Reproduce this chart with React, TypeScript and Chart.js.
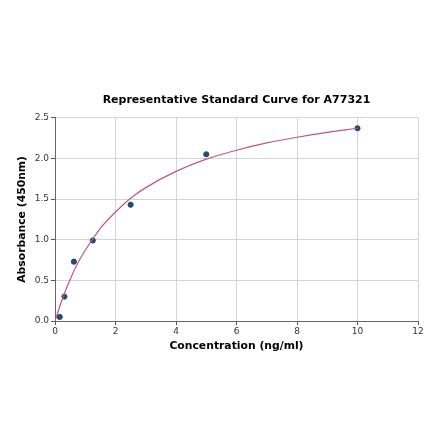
import { useEffect, useRef } from 'react';
import { Chart, registerables } from 'chart.js';

Chart.register(...registerables);

// measured standards
const concentrations = [0.156, 0.3125, 0.625, 1.25, 2.5, 5, 10];
const absorbances = [0.05, 0.3, 0.73, 0.99, 1.43, 2.05, 2.37];

// fitted curve
const curveX = [0, 0.25, 0.5, 0.75, 1, 1.5, 2, 2.5, 3, 4, 5, 6, 7, 8, 9, 10];
const curveY = [0, 0.28, 0.51, 0.71, 0.87, 1.14, 1.34, 1.51, 1.64, 1.84, 1.99, 2.1, 2.19, 2.26, 2.32, 2.37];

const xTicks = [0, 2, 4, 6, 8, 10, 12];
const yTicks = [0, 0.5, 1, 1.5, 2, 2.5];

const FONT = 'DejaVu Sans';

export default function App() {
  const canvasRef = useRef<HTMLCanvasElement | null>(null);
  const chartRef = useRef<Chart | null>(null);

  useEffect(() => {
    const ctx = canvasRef.current?.getContext('2d');
    if (!ctx) return;

    chartRef.current = new Chart(ctx, {
      type: 'scatter',
      data: {
        datasets: [
          {
            type: 'line',
            data: curveX.map((x, i) => ({ x, y: curveY[i] })),
            borderColor: '#c0587a',
            borderWidth: 1.2,
            pointRadius: 0,
            cubicInterpolationMode: 'monotone',
            fill: false,
          },
          {
            data: concentrations.map((x, i) => ({ x, y: absorbances[i] })),
            backgroundColor: '#2b4a6f',
            borderColor: '#2b4a6f',
            pointRadius: 2.6,
          },
        ],
      },
      options: {
        animation: false,
        responsive: false,
        devicePixelRatio: 1,
        layout: { padding: { left: 16, right: 22, top: 0, bottom: 88 } },
        plugins: {
          legend: { display: false },
          tooltip: { enabled: false },
          title: {
            display: true,
            fullSize: false,
            text: 'Representative Standard Curve for A77321',
            color: '#000',
            font: { family: FONT, size: 11, weight: 'bold', lineHeight: 1.2 },
            padding: { top: 94, bottom: 10.5 },
          },
        },
        scales: {
          x: {
            type: 'linear',
            min: 0,
            max: 12,
            afterFit: (s: any) => { s.height = 32; },
            afterBuildTicks: (s: any) => { s.ticks = xTicks.map((v) => ({ value: v })); },
            ticks: { color: '#333', font: { family: FONT, size: 9 }, padding: 1, maxRotation: 0 },
            grid: { color: '#d4d4d4', tickLength: 4, tickColor: '#555' },
            border: { color: '#666', width: 1 },
            title: {
              display: true,
              text: 'Concentration (ng/ml)',
              color: '#000',
              font: { family: FONT, size: 10.8, weight: 'bold', lineHeight: 1.2 },
              padding: 0,
            },
          },
          y: {
            type: 'linear',
            min: 0,
            max: 2.5,
            afterFit: (s: any) => { s.width = 39; },
            afterBuildTicks: (s: any) => { s.ticks = yTicks.map((v) => ({ value: v })); },
            ticks: {
              color: '#333',
              font: { family: FONT, size: 9 },
              padding: 2,
              callback: (v: any) => Number(v).toFixed(1),
            },
            grid: { color: '#d4d4d4', tickLength: 4, tickColor: '#555' },
            border: { color: '#666', width: 1 },
            title: {
              display: true,
              text: 'Absorbance (450nm)',
              color: '#000',
              font: { family: FONT, size: 10.8, weight: 'bold', lineHeight: 1.2 },
              padding: 0,
            },
          },
        },
      },
    });

    return () => chartRef.current?.destroy();
  }, []);

  return (
    <div style={{ position: 'fixed', left: 0, top: 0, width: 440, height: 441, background: '#fff' }}>
      <canvas ref={canvasRef} width={440} height={441} />
    </div>
  );
}
